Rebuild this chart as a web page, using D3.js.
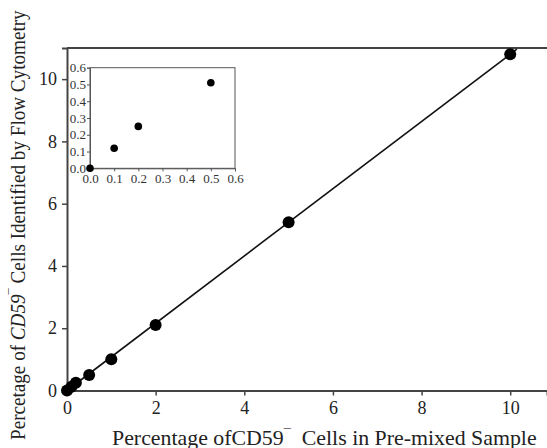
<!DOCTYPE html>
<html>
<head>
<meta charset="utf-8">
<script src="https://cdn.jsdelivr.net/npm/d3@7"></script>
<style>
  body { margin: 0; background: #fff; }
</style>
</head>
<body>
<svg id="chart" width="547" height="448"></svg>
<script>
// main plot data (percent pre-mixed vs percent detected)
var premixed = [0, 0.1, 0.2, 0.5, 1, 2, 5, 10];
var detected = [0, 0.12, 0.25, 0.5, 1, 2.1, 5.4, 10.8];
var mainTicks = [0, 2, 4, 6, 8, 10];

// inset (low range)
var insetX = [0, 0.1, 0.2, 0.5];
var insetY = [0, 0.12, 0.25, 0.51];
var insetTicks = [0, 0.1, 0.2, 0.3, 0.4, 0.5, 0.6];

// fitted line
var fitSlope = 1.08;
var fitEnd = 10.15;

var serif = "'Liberation Serif', 'Times New Roman', serif";
var svg = d3.select("#chart");
var axisColor = "#444";

var x = d3.scaleLinear().domain([0, 10.83]).range([67, 547]);
var y = d3.scaleLinear().domain([0, 11]).range([390.5, 48]);

// frame: top line only (right side is cut off)
svg.append("line")
  .attr("x1", 67).attr("x2", 547).attr("y1", 48).attr("y2", 48)
  .attr("stroke", axisColor).attr("stroke-width", 2);

var xAxis = svg.append("g")
  .attr("transform", "translate(0," + y(0) + ")")
  .call(d3.axisBottom(x).tickValues(mainTicks).tickSize(5).tickPadding(6).tickFormat(d3.format("d")));
var yAxis = svg.append("g")
  .attr("transform", "translate(" + x(0) + ",0)")
  .call(d3.axisLeft(y).tickValues(mainTicks).tickSize(5).tickPadding(5).tickFormat(d3.format("d")));

[xAxis, yAxis].forEach(function(g){
  g.attr("font-family", null).attr("font-size", null);
  g.select(".domain").attr("stroke", axisColor).attr("stroke-width", 2);
  g.selectAll(".tick line").attr("stroke", axisColor).attr("stroke-width", 1.5);
  g.selectAll(".tick text")
    .style("font-family", serif).style("font-size", "18px").attr("fill", "#222");
});

// regression line
svg.append("line")
  .attr("x1", x(0)).attr("y1", y(0))
  .attr("x2", x(fitEnd)).attr("y2", y(fitEnd * fitSlope))
  .attr("stroke", "#111").attr("stroke-width", 1.6);

svg.selectAll("circle.main")
  .data(premixed)
  .enter().append("circle")
    .attr("class", "main")
    .attr("cx", function(d) { return x(d); })
    .attr("cy", function(d, i) { return y(detected[i]); })
    .attr("r", 6)
    .attr("fill", "#000");

// axis titles, stretched a bit to match the original's wide glyphs
function fitText(t, len) {
  var w = t.node().getComputedTextLength();
  return len / w;
}

var xt = svg.append("text")
  .attr("x", 0).attr("y", 0)
  .style("font-family", serif).style("font-size", "20px")
  .attr("fill", "#222")
  .attr("xml:space", "preserve");
xt.append("tspan").text("Percentage ofCD59");
xt.append("tspan").style("font-size", "13px").attr("dy", -7).text("\u00af");
xt.append("tspan").attr("dy", 7).text("  Cells in Pre-mixed Sample");
var sx = fitText(xt, 425);
xt.attr("transform", "translate(112,444.5) scale(" + sx + ",1)");

var yt = svg.append("text")
  .attr("x", 0).attr("y", 0)
  .style("font-family", serif).style("font-size", "20px")
  .attr("fill", "#222")
  .attr("xml:space", "preserve");
yt.append("tspan").text("Percetage of ");
yt.append("tspan").attr("font-style", "italic").text("CD59");
yt.append("tspan").style("font-size", "13px").attr("dy", -7).text("\u00af");
yt.append("tspan").attr("dy", 7).text(" Cells Identified by Flow Cytometry");
var sy = fitText(yt, 430);
yt.attr("transform", "translate(25,440) rotate(-90) scale(" + sy + ",1)");

// inset
var ix = d3.scaleLinear().domain([0, 0.6]).range([90, 235]);
var iy = d3.scaleLinear().domain([0, 0.6]).range([168.3, 67.7]);

svg.append("rect")
  .attr("x", 90).attr("y", 67.7)
  .attr("width", 145).attr("height", 100.6)
  .attr("fill", "#fff").attr("stroke", "#555").attr("stroke-width", 1);

var ixAxis = svg.append("g")
  .attr("transform", "translate(0," + iy(0) + ")")
  .call(d3.axisBottom(ix).tickValues(insetTicks).tickSize(3).tickPadding(2).tickFormat(d3.format(".1f")));
var iyAxis = svg.append("g")
  .attr("transform", "translate(" + ix(0) + ",0)")
  .call(d3.axisLeft(iy).tickValues(insetTicks).tickSize(3).tickPadding(1).tickFormat(d3.format(".1f")));

[ixAxis, iyAxis].forEach(function(g){
  g.attr("font-family", null).attr("font-size", null);
  g.select(".domain").attr("stroke", "#555");
  g.selectAll(".tick line").attr("stroke", "#555");
  g.selectAll(".tick text")
    .style("font-family", serif).style("font-size", "13px").attr("fill", "#333");
});

svg.selectAll("circle.inset")
  .data(insetX)
  .enter().append("circle")
    .attr("class", "inset")
    .attr("cx", function(d) { return ix(d); })
    .attr("cy", function(d, i) { return iy(insetY[i]); })
    .attr("r", 3.8)
    .attr("fill", "#000");
</script>
</body>
</html>
